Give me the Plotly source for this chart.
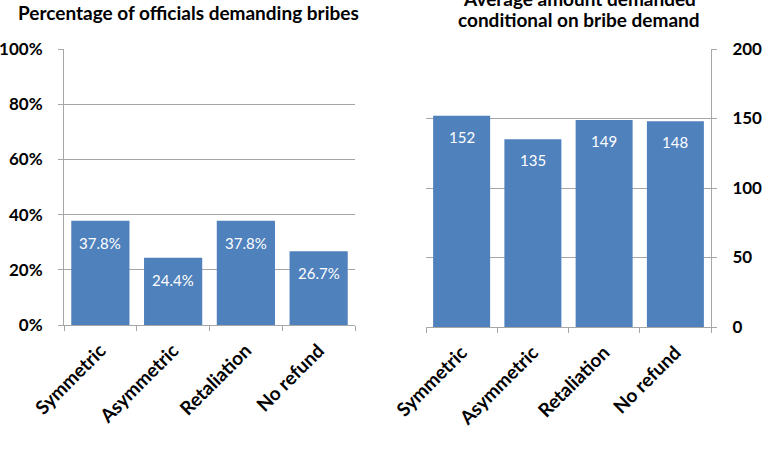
import plotly.graph_objects as go

categories = ["Symmetric", "Asymmetric", "Retaliation", "No refund"]
pct_demanding = [0.378, 0.244, 0.378, 0.267]
pct_labels = ["37.8%", "24.4%", "37.8%", "26.7%"]
avg_amount = [152, 135, 149, 148]
amount_labels = ["152", "135", "149", "148"]
left_ticks = [0, 0.2, 0.4, 0.6, 0.8, 1.0]
left_ticktext = ["0%", "20%", "40%", "60%", "80%", "100%"]
right_ticks = [0, 50, 100, 150, 200]

BAR = "#4F81BD"
GRID = "#A6A6A6"
FONT = "Lato"
W, H = 764, 468

fig = go.Figure()
fig.add_trace(go.Bar(x=categories, y=pct_demanding, marker=dict(color=BAR, line=dict(width=0)),
                     xaxis="x", yaxis="y", showlegend=False))
fig.add_trace(go.Bar(x=categories, y=avg_amount, marker=dict(color=BAR, line=dict(width=0)),
                     xaxis="x2", yaxis="y2", showlegend=False))

annotations = []
for c, v, t in zip(categories, pct_demanding, pct_labels):
    annotations.append(dict(x=c, y=v, xref="x", yref="y", text=t, showarrow=False,
                            yanchor="middle", yshift=-22,
                            font=dict(family=FONT, size=15, color="white")))
for c, v, t in zip(categories, avg_amount, amount_labels):
    annotations.append(dict(x=c, y=v, xref="x2", yref="y2", text=t, showarrow=False,
                            yanchor="middle", yshift=-21,
                            font=dict(family=FONT, size=15, color="white")))

annotations.append(dict(x=188 / W, y=1 - 12 / H, xref="paper", yref="paper",
                        text="<b>Percentage of officials demanding bribes</b>", showarrow=False,
                        xanchor="center", yanchor="middle",
                        font=dict(family=FONT, size=19, color="black")))
annotations.append(dict(x=579 / W, y=1 - 20 / H, xref="paper", yref="paper",
                        text="<b>conditional on bribe demand</b>", showarrow=False,
                        xanchor="center", yanchor="middle",
                        font=dict(family=FONT, size=19, color="black")))
annotations.append(dict(x=579 / W, y=1 - (-2) / H, xref="paper", yref="paper",
                        text="<b>Average amount demanded</b>", showarrow=False,
                        xanchor="center", yanchor="middle",
                        font=dict(family=FONT, size=19, color="black")))

ytickfont = dict(family=FONT, size=17, color="black", weight="bold")
xtickfont = dict(family=FONT, size=19, color="black", weight="bold")

fig.update_layout(
    width=W, height=H,
    margin=dict(l=0, r=0, t=0, b=0),
    paper_bgcolor="white", plot_bgcolor="white",
    bargap=0.2,
    annotations=annotations,
    xaxis=dict(domain=[64 / W, 355 / W], type="category", tickangle=-45,
               tickfont=xtickfont, showline=True, linecolor=GRID, linewidth=1,
               ticks="outside", tickson="boundaries", ticklen=5, tickcolor=GRID,
               showgrid=False, anchor="y", automargin=False, ticklabelstandoff=6),
    yaxis=dict(domain=[1 - 325 / H, 1 - 49 / H], range=[0, 1], tickvals=left_ticks,
               ticktext=left_ticktext, tickfont=ytickfont, showline=True, linecolor=GRID,
               linewidth=1, ticks="outside", ticklen=5, tickcolor=GRID,
               showgrid=True, gridcolor=GRID, gridwidth=1, zeroline=False, anchor="x",
               automargin=False, ticklabelstandoff=12),
    xaxis2=dict(domain=[426 / W, 711 / W], type="category", tickangle=-45,
                tickfont=xtickfont, showline=True, linecolor=GRID, linewidth=1,
                ticks="outside", tickson="boundaries", ticklen=5, tickcolor=GRID,
                showgrid=False, anchor="y2", automargin=False, ticklabelstandoff=6),
    yaxis2=dict(domain=[1 - 327 / H, 1 - 49 / H], range=[0, 200], tickvals=right_ticks,
                tickfont=ytickfont, side="right", showline=True, linecolor=GRID,
                linewidth=1, ticks="outside", ticklen=5, tickcolor=GRID,
                showgrid=True, gridcolor=GRID, gridwidth=1, zeroline=False, anchor="x2",
                automargin=False, ticklabelstandoff=12),
)

fig.write_html("out.html")
